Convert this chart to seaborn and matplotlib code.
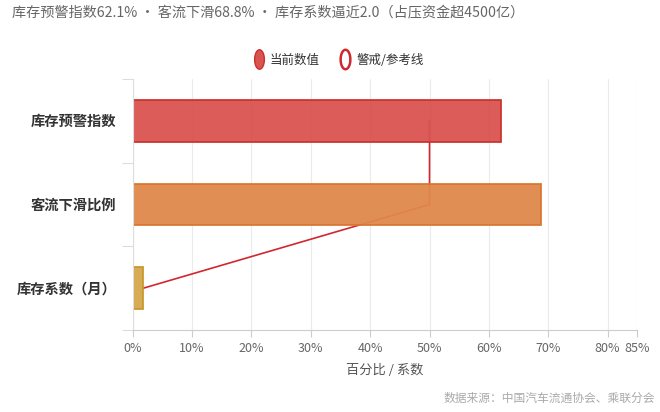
import numpy as np
import pandas as pd
import matplotlib
matplotlib.use("Agg")
import matplotlib.pyplot as plt
from matplotlib.lines import Line2D
from matplotlib.path import Path
import seaborn as sns

categories = ["库存预警指数", "客流下滑比例", "库存系数（月）"]
current_values = [62.1, 68.8, 1.8]
reference_values = [50, 50, 1.8]
xtick_values = [0, 10, 20, 30, 40, 50, 60, 70, 80, 85]
xtick_labels = ["0%", "10%", "20%", "30%", "40%", "50%", "60%", "70%", "80%", "85%"]

fill_colors = ["#d9534f", "#e0884c", "#d4a84b"]
edge_colors = ["#c9302c", "#d9742f", "#c9952c"]
line_color = "#d0282e"

sns.set_theme(style="white")
plt.rcParams["font.family"] = ["Noto Sans CJK SC", "DejaVu Sans"]

df = pd.DataFrame({"cat": categories, "val": current_values})

fig = plt.figure(figsize=(6.6, 4.12), dpi=100)
ax = fig.add_axes([132.7 / 660, 1 - 330 / 412, (637.3 - 132.7) / 660, (330 - 79) / 412])

# reference line under the bars
ax.plot(reference_values, np.arange(len(categories)), color=line_color, lw=1.2, zorder=1)

sns.barplot(data=df, x="val", y="cat", hue="cat", palette=fill_colors, legend=False,
            width=0.5, orient="h", saturation=1, ax=ax, zorder=2)
for bar, ec in zip(ax.patches, edge_colors):
    bar.set_edgecolor(ec)
    bar.set_linewidth(1.3)
    bar.set_alpha(0.95)

ax.set_xlim(0, 85)
ax.set_ylim(2.5, -0.5)
ax.set_xticks(xtick_values)
ax.set_xticklabels(xtick_labels, color="#666666", fontsize=9)
ax.xaxis.grid(True, color="#ebebeb", lw=0.8)
ax.set_axisbelow(True)
ax.tick_params(axis="x", bottom=True, length=5, width=0.8, color="#cccccc", pad=4)

ax.set_yticks(range(len(categories)))
ax.set_yticklabels(categories, fontsize=10.3, fontweight="bold", color="#333333")
ax.set_yticks([-0.5, 0.5, 1.5, 2.5], minor=True)
ax.tick_params(axis="y", which="major", left=False, length=0, pad=12)
ax.tick_params(axis="y", which="minor", left=True, length=8, width=0.8, color="#dddddd")

for side in ["top", "right"]:
    ax.spines[side].set_visible(False)
ax.spines["left"].set_color("#dddddd")
ax.spines["left"].set_linewidth(0.8)
ax.spines["bottom"].set_color("#cccccc")
ax.spines["bottom"].set_linewidth(0.8)

ax.set_ylabel("")
ax.set_xlabel("百分比 / 系数", color="#555555", fontsize=9.5, labelpad=6)

fig.text(12 / 660, 1 - 12 / 412, "库存预警指数62.1% · 客流下滑68.8% · 库存系数逼近2.0（占压资金超4500亿）",
         fontsize=10.2, color="#666666", ha="left", va="center")
fig.text(655 / 660, 1 - 398 / 412, "数据来源：中国汽车流通协会、乘联分会",
         fontsize=8.5, color="#aaaaaa", ha="right", va="center")

t = np.linspace(0, 2 * np.pi, 60)
ellipse = Path(np.c_[0.5 * np.cos(t), np.sin(t)])
handles = [
    Line2D([], [], ls="none", marker=ellipse, markersize=14, markerfacecolor="#d9534f",
           markeredgecolor="#c9302c", markeredgewidth=1),
    Line2D([], [], ls="none", marker=ellipse, markersize=14, markerfacecolor="white",
           markeredgecolor=line_color, markeredgewidth=1.8),
]
fig.legend(handles, ["当前数值", "警戒/参考线"], loc="center", bbox_to_anchor=(338 / 660, 1 - 60 / 412),
           ncol=2, frameon=False, fontsize=9, handlelength=1.0, handletextpad=0.4, columnspacing=1.5,
           labelcolor="#333333")

fig.savefig("out.png", dpi=100)
